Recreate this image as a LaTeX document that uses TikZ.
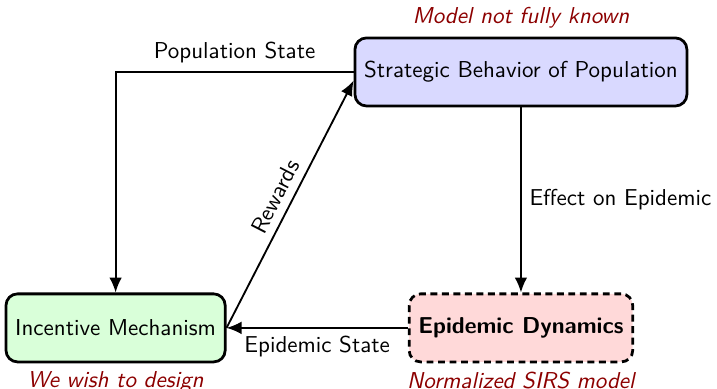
\documentclass[tikz,border=0pt]{standalone}
\usepackage{tikz}
\usetikzlibrary{positioning,arrows.meta}

\begin{document}
\begin{tikzpicture}[>={Latex[length=6.5pt,width=5.5pt]}, thick,
  every node/.style={font=\sffamily},
  block/.style={draw, very thick, rounded corners=5pt, minimum height=1.04cm, inner xsep=4pt},
  note/.style={font=\sffamily\itshape, text=red!55!black, label distance=0pt},
  node distance=2.83cm and 2.77cm]
  \useasboundingbox (0,0) rectangle (10.96,5.945);
  \node[block, fill=blue!15, label={[note]above:Model not fully known}] (behavior) at (7.963,4.845) {Strategic Behavior of Population};
  \node[block, fill=red!15, dash pattern=on 3pt off 2pt, below=of behavior, label={[note]below:Normalized SIRS model}] (epidemic) {\textbf{Epidemic Dynamics}};
  \node[block, fill=green!15, left=of epidemic, label={[note]below:We wish to design}] (incentive) {Incentive Mechanism};
  \draw[->] (behavior.west) -| node[above, pos=0.25] {Population State} (incentive.north);
  \draw[->] (incentive.east) -- node[above, sloped] {Rewards} (behavior.183);
  \draw[->] (behavior) -- node[right] {Effect on Epidemic} (epidemic);
  \draw[->] (epidemic) -- node[below] {Epidemic State} (incentive);
\end{tikzpicture}
\end{document}
